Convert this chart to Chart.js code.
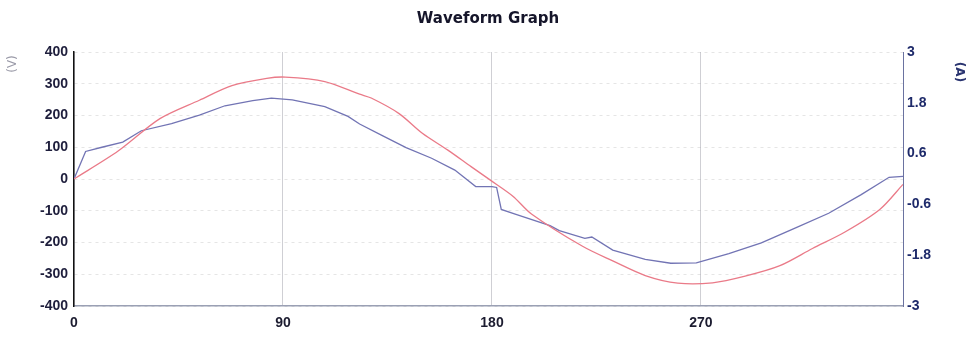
<!DOCTYPE html>
<html>
<head>
<meta charset="utf-8">
<script src="https://cdn.jsdelivr.net/npm/chart.js@4"></script>
<style>
  html, body { margin: 0; padding: 0; background: #fff; }
  #wrap { width: 976px; height: 342px; position: relative; }
</style>
</head>
<body>
<div id="wrap"><canvas id="waveChart"></canvas></div>
<script>
// angle in degrees
const xTicks = [0, 90, 180, 270];
const voltTicks = [-400, -300, -200, -100, 0, 100, 200, 300, 400];
const ampTicks = [-3, -1.8, -0.6, 0.6, 1.8, 3];

// voltage (red, left axis)
const voltDeg = [0, 19, 37, 54, 68, 83, 91, 108, 123, 128, 140, 150, 161, 171, 179, 189, 197, 219, 232, 246, 260, 275, 289, 304, 318, 332, 347, 357];
const voltVal = [0, 88, 190, 248, 294, 317, 321, 307, 267, 255, 206, 144, 91, 39, -2, -54, -110, -212, -258, -304, -328, -327, -306, -273, -219, -167, -96, -17];

// current (blue, right axis)
const ampDeg = [0, 5, 12, 21, 29, 42, 54, 65, 77, 85, 94, 108, 118, 123, 133, 143, 154, 164, 173, 180, 182, 184, 190, 205, 209, 220, 223, 232, 246, 257, 268, 282, 296, 311, 325, 339, 351, 357];
const ampVal = [0, 0.65, 0.75, 0.87, 1.14, 1.31, 1.51, 1.73, 1.85, 1.91, 1.87, 1.71, 1.48, 1.30, 1.02, 0.74, 0.49, 0.21, -0.18, -0.18, -0.20, -0.72, -0.83, -1.10, -1.22, -1.40, -1.37, -1.68, -1.90, -1.99, -1.98, -1.76, -1.51, -1.15, -0.81, -0.37, 0.04, 0.06];

const toPoints = (xs, ys) => xs.map((x, i) => ({ x: x, y: ys[i] }));

// rotated unit labels at the top of each axis
const unitLabels = {
  id: "unitLabels",
  afterDraw(chart) {
    const ctx = chart.ctx;
    ctx.save();
    ctx.font = "12px 'DejaVu Sans', sans-serif";
    ctx.textAlign = "center";
    ctx.textBaseline = "middle";
    ctx.fillStyle = "#9a9aa8";
    ctx.translate(13, 64);
    ctx.rotate(-Math.PI / 2);
    ctx.fillText("(V)", 0, 0);
    ctx.restore();

    ctx.save();
    ctx.font = "bold 12px 'DejaVu Sans', sans-serif";
    ctx.textAlign = "center";
    ctx.textBaseline = "middle";
    ctx.fillStyle = "#2a3470";
    ctx.translate(959, 72);
    ctx.rotate(Math.PI / 2);
    ctx.fillText("(A)", 0, 0);
    ctx.restore();
  }
};

const tickFont = { family: "'Liberation Sans', Arial, sans-serif", size: 14, weight: "bold" };

new Chart(document.getElementById("waveChart"), {
  type: "line",
  data: {
    datasets: [
      {
        label: "Voltage",
        data: toPoints(voltDeg, voltVal),
        borderColor: "#ea7a88",
        borderWidth: 1.3,
        pointRadius: 0,
        tension: 0.3,
        yAxisID: "y"
      },
      {
        label: "Current",
        data: toPoints(ampDeg, ampVal),
        borderColor: "#7274b4",
        borderWidth: 1.3,
        pointRadius: 0,
        tension: 0,
        yAxisID: "y1"
      }
    ]
  },
  options: {
    responsive: true,
    maintainAspectRatio: false,
    animation: false,
    layout: { padding: 0 },
    plugins: {
      legend: { display: false },
      tooltip: { enabled: false },
      title: {
        display: true,
        text: "Waveform Graph",
        color: "#15152a",
        font: { family: "'DejaVu Sans', sans-serif", size: 15, weight: "bold" },
        padding: { top: 10, bottom: 24 }
      }
    },
    scales: {
      x: {
        type: "linear",
        min: 0,
        max: 357,
        afterBuildTicks: (scale) => { scale.ticks = xTicks.map(v => ({ value: v })); },
        afterFit: (scale) => { scale.height = 36; },
        grid: { color: "#cfcfd4", lineWidth: 1, drawTicks: false },
        border: { color: "#9aa0b4", width: 1.5 },
        ticks: { color: "#1c1c30", font: tickFont, padding: 9, maxRotation: 0 }
      },
      y: {
        position: "left",
        min: -400,
        max: 400,
        afterBuildTicks: (scale) => { scale.ticks = voltTicks.map(v => ({ value: v })); },
        afterFit: (scale) => { scale.width = 74; },
        grid: { color: "rgba(0,0,0,0.10)", lineWidth: 1, drawTicks: false },
        border: { color: "#111111", width: 1.5, dash: [3, 4] },
        ticks: { color: "#1e1e3c", font: tickFont, padding: 6 }
      },
      y1: {
        position: "right",
        min: -3,
        max: 3,
        afterBuildTicks: (scale) => { scale.ticks = ampTicks.map(v => ({ value: v })); },
        afterFit: (scale) => { scale.width = 73; },
        grid: { drawOnChartArea: false, drawTicks: false },
        border: { color: "#6a72a0", width: 1 },
        ticks: {
          color: "#1e2a6a",
          font: tickFont,
          padding: 4,
          callback: (v) => Number.isInteger(v) ? String(v) : v.toFixed(1)
        }
      }
    }
  },
  plugins: [unitLabels]
});
</script>
</body>
</html>
